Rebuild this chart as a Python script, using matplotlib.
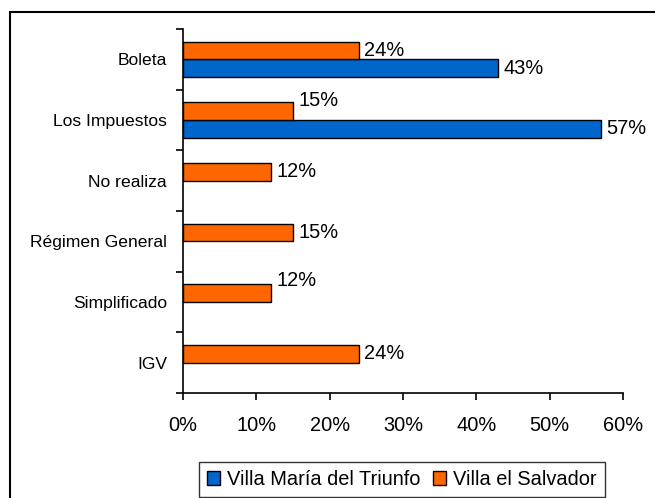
import matplotlib
matplotlib.use("Agg")
import matplotlib.pyplot as plt
from matplotlib.patches import Rectangle
import numpy as np

plt.rcParams['font.family'] = ['Liberation Sans', 'DejaVu Sans']

categories = ["Boleta", "Los Impuestos", "No realiza", "Régimen General", "Simplificado", "IGV"]
series_names = ["Villa María del Triunfo", "Villa el Salvador"]
vmt = [43, 57, None, None, None, None]
ves = [24, 15, 12, 15, 12, 24]
x_ticks = [0, 10, 20, 30, 40, 50, 60]

# style: per-label vertical pixel offsets (Excel label placement)
ves_label_dy = [0, 11, 0, 0, 13, 0]
vmt_label_dy = [0, 0, 0, 0, 0, 0]

c_blue = "#0066CC"
c_orange = "#FF6600"

fig = plt.figure(figsize=(6.55, 4.98), dpi=100)
ax = fig.add_axes([183/655, 1-393/498, (623-183)/655, (393-29)/498])

n = len(categories)
y = np.arange(n)
h = 0.29

for i in range(n):
    if vmt[i] is not None:
        ax.barh(y[i] + h/2, vmt[i], height=h, color=c_blue, edgecolor="black", linewidth=1.0)
        ax.annotate(f"{vmt[i]}%", (vmt[i], y[i] + h/2), xytext=(5, vmt_label_dy[i]),
                    textcoords="offset pixels", va="center", ha="left", fontsize=14.4)
    if ves[i] is not None:
        ax.barh(y[i] - h/2, ves[i], height=h, color=c_orange, edgecolor="black", linewidth=1.0)
        ax.annotate(f"{ves[i]}%", (ves[i], y[i] - h/2), xytext=(5, ves_label_dy[i]),
                    textcoords="offset pixels", va="center", ha="left", fontsize=14.4)

ax.set_xlim(0, 60)
ax.set_ylim(n - 0.5, -0.5)
ax.set_xticks(x_ticks)
ax.set_xticklabels([f"{t}%" for t in x_ticks], fontsize=14.4)
ax.tick_params(axis="x", direction="out", length=5, width=1.2, pad=11.5)

ax.set_yticks(np.arange(-0.5, n, 1.0))
ax.set_yticklabels([])
ax.set_yticks(y, minor=True)
ax.set_yticklabels(categories, minor=True, fontsize=12.6)
ax.tick_params(axis="y", which="major", direction="out", length=5, width=1.2)
ax.tick_params(axis="y", which="minor", length=0, pad=11.5)

for s in ["top", "right"]:
    ax.spines[s].set_visible(False)
ax.spines["left"].set_linewidth(1.2)
ax.spines["bottom"].set_linewidth(1.2)

handles = [Rectangle((0, 0), 1, 1, facecolor=c_blue, edgecolor="black", linewidth=1.0),
           Rectangle((0, 0), 1, 1, facecolor=c_orange, edgecolor="black", linewidth=1.0)]
leg = fig.legend(handles, series_names, loc="upper center", bbox_to_anchor=(402/655, 1-462/498),
                 ncol=2, fontsize=14.4, frameon=True, fancybox=False, edgecolor="black",
                 handlelength=0.65, handleheight=0.65, handletextpad=0.35, columnspacing=0.65,
                 borderpad=0.4, borderaxespad=0)
leg.get_frame().set_linewidth(1.0)

fig.patches.append(Rectangle((10/655, -0.05), 1.0, 1 - 12/498 + 0.05, transform=fig.transFigure,
                             fill=False, edgecolor="black", linewidth=1.5, zorder=-1))

fig.savefig("out.png", dpi=100)
